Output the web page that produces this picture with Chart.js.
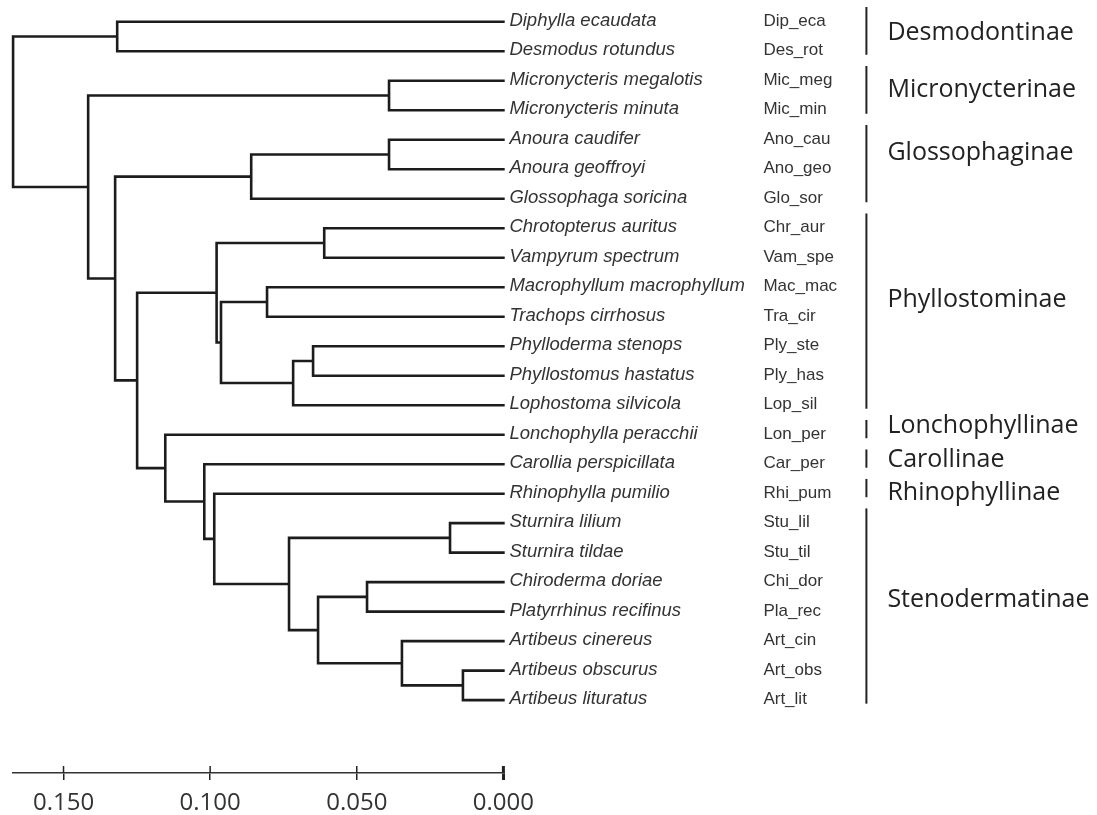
<!DOCTYPE html>
<html>
<head>
<meta charset="utf-8">
<script src="https://cdn.jsdelivr.net/npm/chart.js@4.4.1/dist/chart.umd.min.js"></script>
<style>
  html, body { margin: 0; padding: 0; background: #fff; }
  #wrap { width: 1097px; height: 815px; }
</style>
</head>
<body>
<div id="wrap"><canvas id="treeChart" width="1097" height="815"></canvas></div>
<script>
// leaves, top to bottom
const species = [
  "Diphylla ecaudata", "Desmodus rotundus", "Micronycteris megalotis", "Micronycteris minuta",
  "Anoura caudifer", "Anoura geoffroyi", "Glossophaga soricina", "Chrotopterus auritus",
  "Vampyrum spectrum", "Macrophyllum macrophyllum", "Trachops cirrhosus", "Phylloderma stenops",
  "Phyllostomus hastatus", "Lophostoma silvicola", "Lonchophylla peracchii", "Carollia perspicillata",
  "Rhinophylla pumilio", "Sturnira lilium", "Sturnira tildae", "Chiroderma doriae",
  "Platyrrhinus recifinus", "Artibeus cinereus", "Artibeus obscurus", "Artibeus lituratus"
];
const codes = [
  "Dip_eca", "Des_rot", "Mic_meg", "Mic_min", "Ano_cau", "Ano_geo", "Glo_sor", "Chr_aur",
  "Vam_spe", "Mac_mac", "Tra_cir", "Ply_ste", "Ply_has", "Lop_sil", "Lon_per", "Car_per",
  "Rhi_pum", "Stu_lil", "Stu_til", "Chi_dor", "Pla_rec", "Art_cin", "Art_obs", "Art_lit"
];

// internal nodes, numbered from 24 on; a child < 24 is a leaf
const nodeChildren = [
  [0, 1], [2, 3], [4, 5], [26, 6], [7, 8], [9, 10], [11, 12], [30, 13],
  [29, 31], [28, 32], [17, 18], [19, 20], [22, 23], [21, 36], [35, 37], [34, 38],
  [16, 39], [15, 40], [14, 41], [33, 42], [27, 43], [25, 44], [24, 45]
];
const nodeHeights = [
  0.1317, 0.0390, 0.0390, 0.0860, 0.0611, 0.0806, 0.0649, 0.0717,
  0.0963, 0.0978, 0.0182, 0.0465, 0.0138, 0.0346, 0.0632, 0.0731,
  0.0986, 0.1020, 0.1153, 0.1249, 0.1324, 0.1416, 0.1672
];

const groups = ["Desmodontinae", "Micronycterinae", "Glossophaginae", "Phyllostominae",
  "Lonchophyllinae", "Carollinae", "Rhinophyllinae", "Stenodermatinae"];
const groupFirst = [0, 2, 4, 7, 14, 15, 16, 17];
const groupLast = [1, 3, 6, 13, 14, 15, 16, 23];

const tickValues = [0, 0.05, 0.1, 0.15];

// where each group name sits, in rows
const groupLabelRow = [0.62, 2.55, 4.7, 9.68, 13.95, 15.1, 16.22, 19.85];

const nLeaves = species.length;
const posX = [];
const posY = [];
for (let i = 0; i < nLeaves; i++) { posX[i] = 0; posY[i] = i; }
nodeChildren.forEach((ch, k) => {
  const id = nLeaves + k;
  posX[id] = nodeHeights[k];
  posY[id] = (posY[ch[0]] + posY[ch[1]]) / 2;
});

const branchPoints = [];
nodeChildren.forEach((ch, k) => {
  const id = nLeaves + k;
  const a = ch[0], b = ch[1];
  branchPoints.push(
    { x: posX[a], y: posY[a] },
    { x: posX[id], y: posY[a] },
    { x: posX[id], y: posY[b] },
    { x: posX[b], y: posY[b] },
    { x: null, y: null }
  );
});

const textPlugin = {
  id: 'treeText',
  afterDraw(chart) {
    const ctx = chart.ctx;
    const xs = chart.scales.x;
    const ys = chart.scales.y;
    const right = xs.getPixelForValue(0);
    const axisY = chart.chartArea.bottom;
    ctx.save();

    // tick marks also rise above the axis line
    ctx.strokeStyle = '#222';
    tickValues.forEach(v => {
      const px = xs.getPixelForValue(v);
      ctx.lineWidth = v === 0 ? 3 : 1.5;
      ctx.beginPath();
      ctx.moveTo(px, axisY - 7);
      ctx.lineTo(px, axisY);
      ctx.stroke();
    });

    ctx.textBaseline = 'alphabetic';
    ctx.fillStyle = '#333';
    species.forEach((name, i) => {
      const py = ys.getPixelForValue(i);
      ctx.font = 'italic 18.5px "Liberation Sans", Arial, sans-serif';
      ctx.fillText(name, right + 6, py + 4);
      ctx.font = '17px "Liberation Sans", Arial, sans-serif';
      ctx.fillText(codes[i], right + 260, py + 4);
    });

    ctx.fillStyle = '#222';
    ctx.strokeStyle = '#222';
    ctx.lineWidth = 2;
    ctx.font = '25px "Open Sans", sans-serif';
    groups.forEach((g, i) => {
      const top = ys.getPixelForValue(groupFirst[i] - 0.5);
      const bottom = ys.getPixelForValue(groupLast[i] + 0.12);
      ctx.beginPath();
      ctx.moveTo(right + 363, top);
      ctx.lineTo(right + 363, bottom);
      ctx.stroke();
      ctx.fillText(g, right + 384, ys.getPixelForValue(groupLabelRow[i]));
    });
    ctx.restore();
  }
};

new Chart(document.getElementById('treeChart'), {
  type: 'line',
  data: {
    datasets: [{
      data: branchPoints,
      borderColor: '#1c1c1c',
      borderWidth: 2.6,
      borderCapStyle: 'square',
      borderJoinStyle: 'miter',
      pointRadius: 0,
      tension: 0,
      spanGaps: false,
      clip: false
    }]
  },
  options: {
    responsive: false,
    animation: false,
    layout: { padding: { left: 12.5, right: 593.6, top: 7, bottom: 0 } },
    plugins: { legend: { display: false }, tooltip: { enabled: false } },
    scales: {
      x: {
        type: 'linear',
        reverse: true,
        min: 0,
        max: 0.1674,
        afterBuildTicks: (scale) => { scale.ticks = tickValues.map(v => ({ value: v })); },
        afterFit: (scale) => { scale.height = 42; },
        grid: {
          drawOnChartArea: false,
          drawTicks: true,
          tickLength: 7,
          color: '#222',
          lineWidth: (c) => (c.tick && c.tick.value === 0 ? 3 : 1.5)
        },
        border: { display: true, color: '#333', width: 1.5 },
        ticks: {
          padding: 11,
          maxRotation: 0,
          color: '#333',
          font: { family: '"Open Sans", sans-serif', size: 24, lineHeight: 1 },
          callback: (v) => Number(v).toFixed(3)
        }
      },
      y: {
        type: 'linear',
        display: false,
        reverse: true,
        min: -0.5,
        max: 25.47
      }
    }
  },
  plugins: [textPlugin]
});
</script>
</body>
</html>
